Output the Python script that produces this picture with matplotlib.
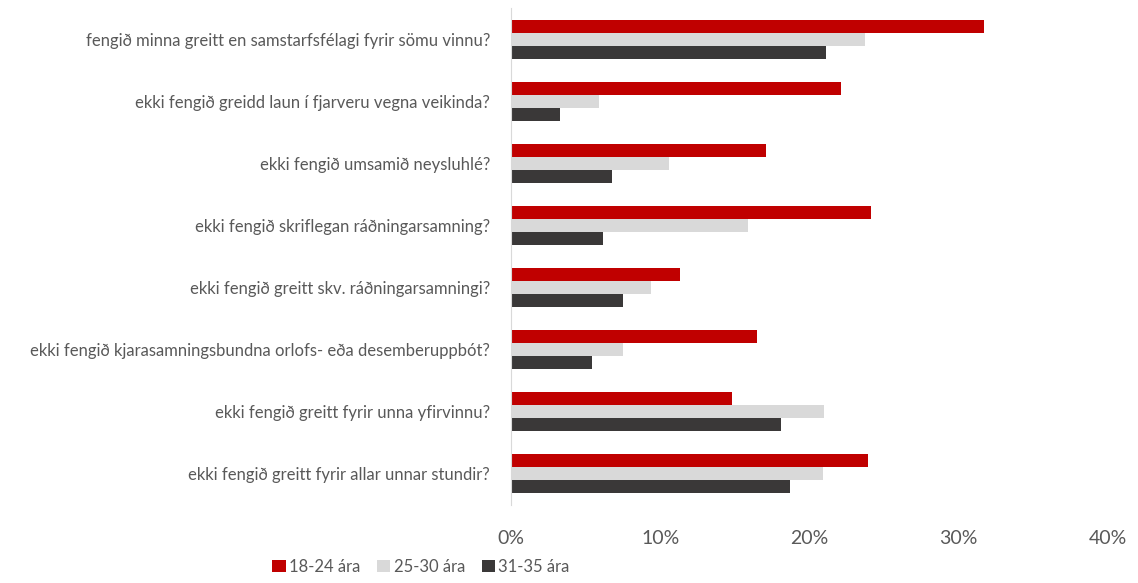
import numpy as np
import matplotlib.pyplot as plt

categories = [
    'fengið minna greitt en samstarfsfélagi fyrir sömu vinnu?',
    'ekki fengið greidd laun í fjarveru vegna veikinda?',
    'ekki fengið umsamið neysluhlé?',
    'ekki fengið skriflegan ráðningarsamning?',
    'ekki fengið greitt skv. ráðningarsamningi?',
    'ekki fengið kjarasamningsbundna orlofs- eða desemberuppbót?',
    'ekki fengið greitt fyrir unna yfirvinnu?',
    'ekki fengið greitt fyrir allar unnar stundir?',
]
series_names = ['18-24 ára', '25-30 ára', '31-35 ára']
vals_18_24 = [31.7, 22.1, 17.1, 24.1, 11.3, 16.5, 14.8, 23.9]
vals_25_30 = [23.7, 5.9, 10.6, 15.9, 9.4, 7.5, 21.0, 20.9]
vals_31_35 = [21.1, 3.3, 6.8, 6.2, 7.5, 5.4, 18.1, 18.7]
xticks = [0, 10, 20, 30, 40]

colors = ['#C00000', '#D9D9D9', '#3A3838']
text_col = '#595959'

plt.rcParams['font.family'] = ['Lato', 'DejaVu Sans']

fig = plt.figure(figsize=(11.38, 5.83), dpi=100)
ax = fig.add_axes([0.449, 0.134, 0.5246, 0.852])

y = np.arange(len(categories))
h = 0.21
for i, vals in enumerate([vals_18_24, vals_25_30, vals_31_35]):
    ax.barh(y + (i - 1) * h, vals, height=h, color=colors[i],
            label=series_names[i])

ax.set_ylim(len(categories) - 0.5, -0.5)
ax.set_xlim(0, 40)
ax.set_yticks(y)
ax.set_yticklabels(categories, fontsize=12, color=text_col)
ax.set_xticks(xticks)
ax.set_xticklabels([f'{t}%' for t in xticks], fontsize=14, color=text_col)
ax.tick_params(axis='both', length=0)
ax.tick_params(axis='y', pad=15)
ax.tick_params(axis='x', pad=18)
for s in ['top', 'right', 'bottom']:
    ax.spines[s].set_visible(False)
ax.spines['left'].set_color('#D9D9D9')

fig.legend(loc='center', bbox_to_anchor=(0.37, 0.028), ncol=3, frameon=False,
           fontsize=12, labelcolor=text_col, handlelength=0.8, handleheight=0.8,
           handletextpad=0.2, columnspacing=1.0)

fig.savefig('out.png', dpi=100)
